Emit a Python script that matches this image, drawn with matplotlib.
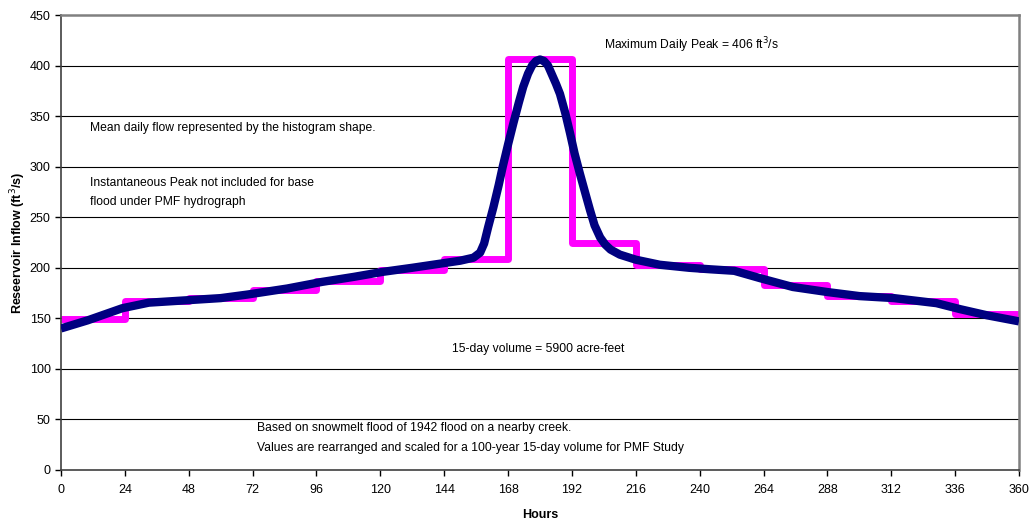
import matplotlib
matplotlib.use("Agg")
import matplotlib.pyplot as plt

plt.rcParams['font.family'] = ['Liberation Sans', 'DejaVu Sans']

# Daily mean flow histogram (15 days)
day_edges = [0, 24, 48, 72, 96, 120, 144, 168, 192, 216, 240, 264, 288, 312, 336, 360]
daily_flow = [149, 167, 170, 178, 187, 198, 209, 406, 225, 203, 199, 183, 172, 167, 154]

# Instantaneous hydrograph
curve_hours = [0, 10, 23, 33, 48, 60, 70, 85, 98, 110, 121, 132, 141, 150, 155, 157.5,
               159, 160.5, 162.5, 164.5, 166, 168, 170, 172, 173.7, 175.5, 177, 178.5,
               180, 181.5, 183, 184.5, 186, 187.5, 189.5, 191.3, 193, 195, 197, 198.8,
               200.5, 202.6, 204.5, 206.5, 210, 216, 225, 236, 244, 253, 263,
               275, 288, 300, 313, 329, 338, 348, 360]
curve_flow = [140, 148, 160, 165.5, 168, 170, 173.5, 179.5, 186, 191, 196, 200, 203.5,
              207, 210, 215, 224, 240, 260, 282, 300, 322, 343, 363, 379, 392, 400, 404.5,
              406, 404.5, 400, 391, 382, 372, 353, 333, 313, 293, 274, 257,
              242, 230, 223, 218, 213, 208, 203, 200, 198.5, 197, 189.5,
              181, 176, 172, 170, 165, 159, 153, 147]

x_ticks = list(range(0, 361, 24))
y_ticks = list(range(0, 451, 50))

fig = plt.figure(figsize=(10.31, 5.23), dpi=100)
ax = fig.add_axes([61/1031, 1 - 470/523, (1019 - 61)/1031, (470 - 15)/523])

for yv in y_ticks[1:-1]:
    ax.axhline(yv, color='black', lw=0.8, zorder=1)

ax.stairs(daily_flow, day_edges, baseline=None, color='#FF00FF', lw=5, zorder=2,
          joinstyle='round')
ax.plot(curve_hours, curve_flow, color='#000080', lw=6, zorder=3,
        solid_joinstyle='round', solid_capstyle='butt')

ax.set_xlim(0, 360)
ax.set_ylim(0, 450)
ax.set_xticks(x_ticks)
ax.set_yticks(y_ticks)
ax.tick_params(direction='out', length=4, width=1, labelsize=9, colors='black')
ax.tick_params(axis='x', pad=6)

for s in ['left', 'bottom']:
    ax.spines[s].set_color('#404040')
    ax.spines[s].set_linewidth(1.2)
for s in ['top', 'right']:
    ax.spines[s].set_color('#808080')
    ax.spines[s].set_linewidth(1.8)

ax.set_ylabel('Reseervoir Inflow (ft$^3$/s)', fontsize=9, fontweight='bold', va='center')
ax.yaxis.set_label_coords((18 - 61) / 958, 0.5)
ax.set_xlabel('Hours', fontsize=9, fontweight='bold', va='center')
ax.xaxis.set_label_coords((540 - 61) / 958, (470 - 515) / 455)

fs = 8.7
ax.text(204, 420, 'Maximum Daily Peak = 406 ft$^3$/s', fontsize=fs, va='center', ha='left')
ax.text(10.9, 338, 'Mean daily flow represented by the histogram shape.', fontsize=fs, va='center')
ax.text(10.9, 284, 'Instantaneous Peak not included for base', fontsize=fs, va='center')
ax.text(10.9, 265, 'flood under PMF hydrograph', fontsize=fs, va='center')
ax.text(147, 120, '15-day volume = 5900 acre-feet', fontsize=fs, va='center')
ax.text(73.7, 41.5, 'Based on snowmelt flood of 1942 flood on a nearby creek.', fontsize=fs, va='center')
ax.text(73.7, 21.8, 'Values are rearranged and scaled for a 100-year 15-day volume for PMF Study', fontsize=fs, va='center')

fig.savefig('out.png', dpi=100)
